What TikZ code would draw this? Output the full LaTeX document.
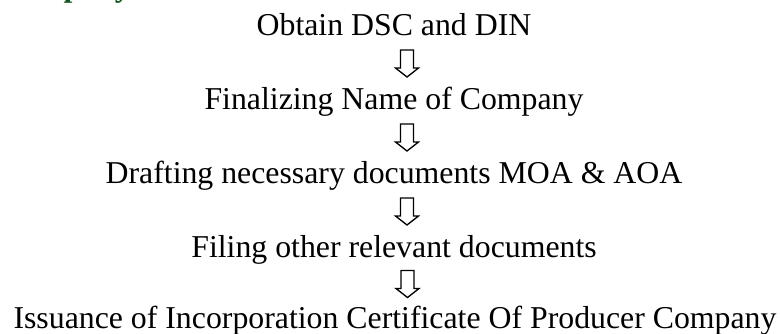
\documentclass[tikz,border=0pt]{standalone}
\usepackage{fontspec}
\setmainfont{Liberation Serif}
\usetikzlibrary{calc}

\definecolor{headgreen}{RGB}{16,86,24}

\tikzset{
	steptext/.style={anchor=base, inner sep=0pt, font=\fontsize{23.85}{28}\selectfont},
	headtext/.style={anchor=base west, inner sep=0pt, text=headgreen, font=\fontsize{23.85}{28}\selectfont\bfseries},
	blockarrow/.style={draw=black, line width=1pt, line join=miter},
}

\begin{document}
\begin{tikzpicture}[x=0.75pt, y=-0.75pt]
\useasboundingbox (0,0) rectangle (780,333);
\clip (0,0) rectangle (780,333);

% heading line above, only its descenders fall inside
\node[headtext] (heading) at (-2,-3.5) {Company};

\node[steptext] (dsc) at (394,35) {Obtain DSC and DIN};
\node[steptext] (name) at (394,109) {Finalizing Name of Company};
\node[steptext] (moa) at (394,183) {Drafting necessary documents MOA \& AOA};
\node[steptext] (filing) at (394,257) {Filing other relevant documents};
\node[steptext] (cert) at (395,328) {Issuance of Incorporation Certificate Of Producer Company};

% hollow arrows between the steps
\foreach \a/\b in {dsc/name, name/moa, moa/filing, filing/cert} {
	\draw[blockarrow, shift={($(\a.base)!.5!(\b.base)+(13,-8.5)$)}]
		(-6.5,-13.5) -- (6.5,-13.5) -- (6.5,4.5) -- (11.5,4.5) -- (0,13.5)
		-- (-11.5,4.5) -- (-6.5,4.5) -- cycle;
}
\end{tikzpicture}
\end{document}
